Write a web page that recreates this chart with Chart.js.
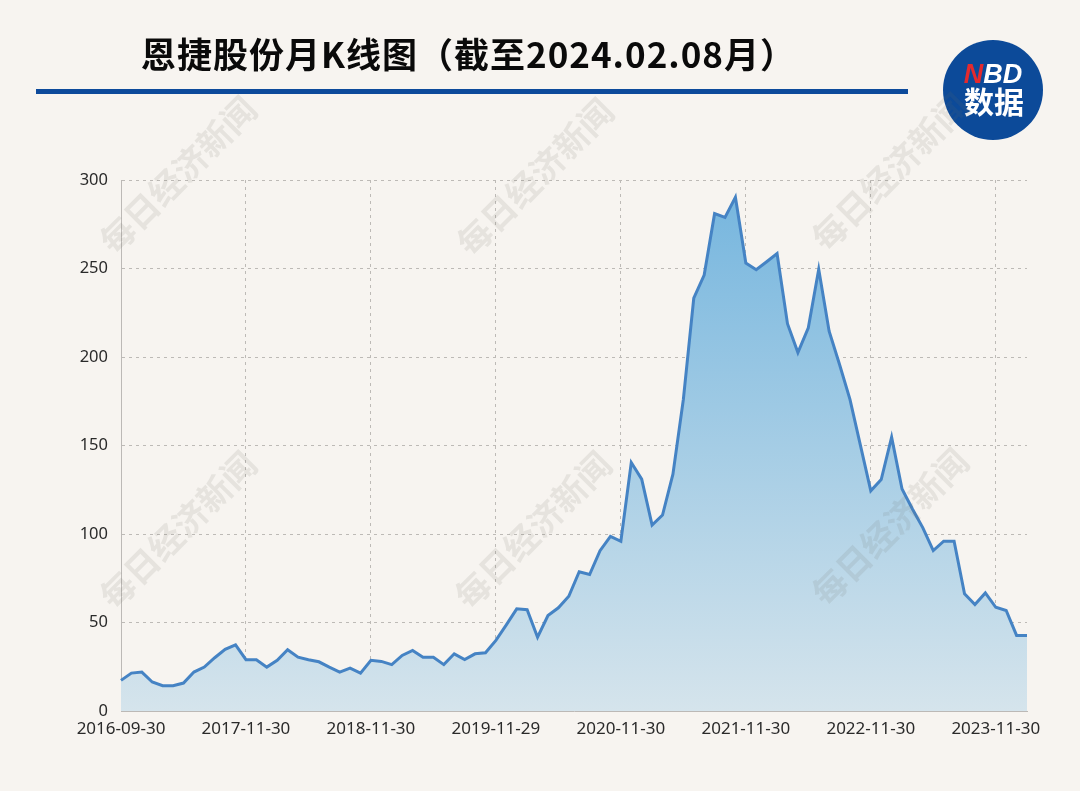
<!DOCTYPE html>
<html lang="zh">
<head>
<meta charset="UTF-8" />
<title>恩捷股份月K线图</title>
<script src="https://cdn.jsdelivr.net/npm/chart.js@4"></script>
<style>
  body { margin: 0; background: #f7f4f0; }
  #wrap { width: 1080px; height: 791px; }
</style>
</head>
<body>
<div id="wrap"><canvas id="myChart" width="1080" height="791"></canvas></div>
<script>
// 月末日期（只显示每 12 个一个）
var fechas = [
  '2016-09-30','2016-10-31','2016-11-30','2016-12-30','2017-01-26','2017-02-28','2017-03-31','2017-04-28',
  '2017-07-31','2017-08-31','2017-09-29','2017-10-31','2017-11-30','2017-12-29',
  '2018-01-31','2018-02-28','2018-03-30','2018-04-27','2018-05-31','2018-06-29','2018-07-31','2018-08-31',
  '2018-09-28','2018-10-31','2018-11-30','2018-12-28',
  '2019-01-31','2019-02-28','2019-03-29','2019-04-30','2019-05-31','2019-06-28','2019-07-31','2019-08-30',
  '2019-09-30','2019-10-31','2019-11-29','2019-12-31',
  '2020-01-23','2020-02-28','2020-03-31','2020-04-30','2020-05-29','2020-06-30','2020-07-31','2020-08-31',
  '2020-09-30','2020-10-30','2020-11-30','2020-12-31',
  '2021-01-29','2021-02-26','2021-03-31','2021-04-30','2021-05-31','2021-06-30','2021-07-30','2021-08-31',
  '2021-09-30','2021-10-29','2021-11-30','2021-12-31',
  '2022-01-28','2022-02-28','2022-03-31','2022-04-29','2022-05-31','2022-06-30','2022-07-29','2022-08-31',
  '2022-09-30','2022-10-31','2022-11-30','2022-12-30',
  '2023-01-31','2023-02-28','2023-03-31','2023-04-28','2023-05-31','2023-06-30','2023-07-31','2023-08-31',
  '2023-09-28','2023-10-31','2023-11-30','2023-12-29',
  '2024-01-31','2024-02-08'
];

// 月收盘价
var precios = [
  17.3, 21.4, 22, 16.4, 14.3, 14.3, 15.8, 22, 24.8, 30.1,
  34.8, 37.4, 29, 29, 24.8, 28.6, 34.6, 30.4, 29, 27.8,
  24.8, 22, 24.2, 21.4, 28.6, 28, 26.2, 31.4, 34.2, 30.4,
  30.4, 26.2, 32.3, 29.1, 32.3, 32.9, 39.9, 48.7, 57.7, 57.2,
  41.7, 53.9, 58.3, 64.8, 78.7, 77.1, 90.6, 98.7, 95.9, 140.4,
  131, 105.1, 110.7, 133.8, 176, 233.2, 246.3, 281, 278.9, 290.2,
  253.1, 249.3, 253.8, 258.5, 218.8, 202.5, 216.5, 249.6, 214.6, 195.8,
  176.1, 150.2, 124.4, 130.8, 154.7, 125.4, 114.1, 103.5, 90.6, 95.9,
  95.9, 66.2, 60.1, 66.7, 58.6, 56.8, 42.7, 42.7
];

var yMin = 0;
var yMax = 300;
var yPaso = 50;
var cadaN = 12; // etiqueta cada 12 puntos

var titulo = '恩捷股份月K线图（截至2024.02.08月）';
var marcaAgua = '每日经济新闻';

var decoracion = {
  id: 'decoracion',
  beforeDraw: function (chart) {
    var ctx = chart.ctx;
    ctx.save();
    ctx.fillStyle = '#f7f4f0';
    ctx.fillRect(0, 0, chart.width, chart.height);

    // título
    ctx.fillStyle = '#0a0a0a';
    ctx.font = 'bold 35px "Noto Sans CJK SC"';
    ctx.letterSpacing = '1px';
    ctx.textBaseline = 'middle';
    ctx.textAlign = 'left';
    ctx.fillText(titulo, 141, 55);
    ctx.letterSpacing = '0px';

    // línea azul
    ctx.fillStyle = '#0d4a9b';
    ctx.fillRect(36, 89, 872, 5);

    // logo
    ctx.beginPath();
    ctx.arc(993, 90, 50, 0, Math.PI * 2);
    ctx.fillStyle = '#0c4a99';
    ctx.fill();
    ctx.font = 'italic bold 27px "Liberation Sans"';
    ctx.textAlign = 'left';
    ctx.textBaseline = 'alphabetic';
    var wN = ctx.measureText('N').width;
    var wBD = ctx.measureText('BD').width;
    var x0 = 993 - (wN + wBD) / 2;
    ctx.fillStyle = '#e42a2e';
    ctx.fillText('N', x0, 83);
    ctx.fillStyle = '#fff';
    ctx.fillText('BD', x0 + wN, 83);
    ctx.font = 'bold 30px "Noto Sans CJK SC"';
    ctx.textAlign = 'center';
    ctx.textBaseline = 'middle';
    ctx.fillText('数据', 994, 102);
    ctx.restore();
  },
  afterDraw: function (chart) {
    var ctx = chart.ctx;
    var centros = [[178, 175], [535, 177], [890, 172], [178, 530], [533, 530], [890, 527]];
    ctx.save();
    ctx.font = 'bold 34px "Noto Sans CJK SC"';
    ctx.fillStyle = 'rgba(110, 105, 100, 0.12)';
    ctx.textAlign = 'center';
    ctx.textBaseline = 'middle';
    centros.forEach(function (c) {
      ctx.save();
      ctx.translate(c[0], c[1]);
      ctx.rotate(-Math.PI / 4);
      ctx.fillText(marcaAgua, 0, 0);
      ctx.restore();
    });
    ctx.restore();
  }
};

var ctx = document.getElementById('myChart').getContext('2d');
var myChart = new Chart(ctx, {
  type: 'line',
  data: {
    labels: fechas,
    datasets: [{
      label: '恩捷股份',
      data: precios,
      fill: 'origin',
      borderColor: '#4583c4',
      borderWidth: 3,
      pointRadius: 0,
      tension: 0,
      backgroundColor: function (c) {
        var area = c.chart.chartArea;
        if (!area) return 'rgba(170,205,225,0.8)';
        var g = c.chart.ctx.createLinearGradient(0, area.top, 0, area.bottom);
        g.addColorStop(0, 'rgb(116, 181, 222)');
        g.addColorStop(1, 'rgb(213, 228, 236)');
        return g;
      }
    }]
  },
  options: {
    responsive: false,
    animation: false,
    layout: { padding: { top: 180, right: 53, bottom: 40, left: 0 } },
    plugins: {
      legend: { display: false },
      tooltip: { enabled: false }
    },
    scales: {
      x: {
        offset: false,
        grid: {
          drawTicks: false,
          color: function (c) {
            return (c.index > 0 && c.index % cadaN === 0) ? '#bdbab6' : 'rgba(0,0,0,0)';
          }
        },
        border: { display: true, color: '#bcb9b6', width: 1, dash: [3, 4] },
        ticks: {
          autoSkip: false,
          maxRotation: 0,
          padding: 8,
          color: '#2a2a2a',
          font: { family: '"Noto Sans"', size: 17 },
          callback: function (v, i) {
            return i % cadaN === 0 ? fechas[i] : '';
          }
        },
        afterFit: function (s) { s.height = 40; }
      },
      y: {
        min: yMin,
        max: yMax,
        grid: { drawTicks: false, color: '#bdbab6' },
        border: { display: true, color: '#bcb9b6', width: 1, dash: [3, 4] },
        ticks: {
          stepSize: yPaso,
          padding: 13,
          color: '#2a2a2a',
          font: { family: '"Noto Sans"', size: 16.5 }
        },
        afterFit: function (s) { s.width = 121; }
      }
    }
  },
  plugins: [decoracion]
});
</script>
</body>
</html>
